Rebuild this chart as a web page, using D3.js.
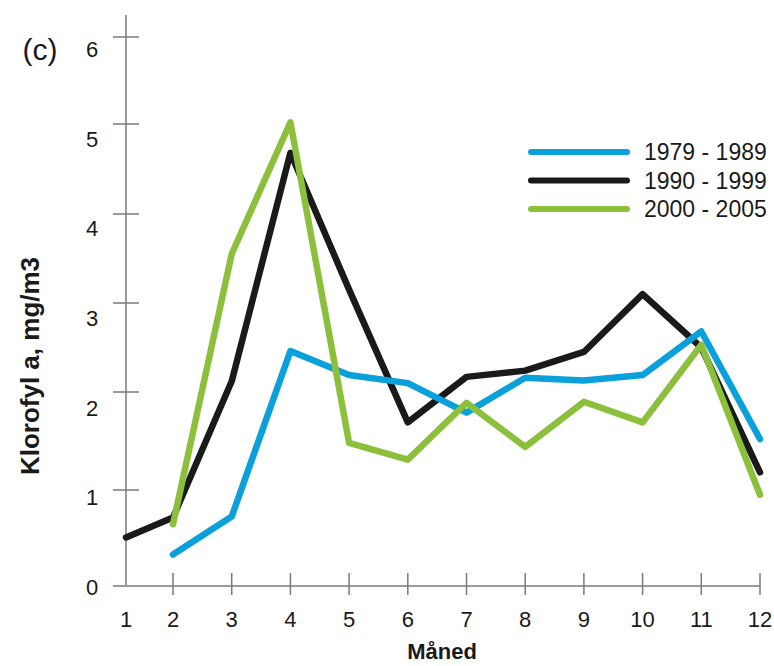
<html>
    <head>
        <script src='https://d3js.org/d3.v7.min.js'></script>
        <style>
            body { margin: 0; background: white; }
            text { font-family: 'Liberation Sans', Arial, sans-serif; fill: #1a1a1a; }
            .tick-label { font-size: 22px; text-anchor: middle; }
            .axis-title { font-size: 22px; font-weight: bold; text-anchor: middle; }
            .legend-label { font-size: 23px; }
        </style>
    </head>
    <body>
        <svg width=774 height=666 class="vis"></svg>
        <script>
            // chart values
            const months = [1, 2, 3, 4, 5, 6, 7, 8, 9, 10, 11, 12];
            const yTicks = [0, 1, 2, 3, 4, 5, 6];
            const seriesNames = ["1979 - 1989", "1990 - 1999", "2000 - 2005"];
            const seriesColors = ["#0aa0da", "#1a1a1a", "#8cc03c"];
            // null = no value that month
            const values7989 = [null, 0.32, 0.72, 2.46, 2.19, 2.1, 1.79, 2.16, 2.13, 2.19, 2.68, 1.52];
            const values9099 = [0.5, 0.71, 2.12, 4.68, 3.15, 1.69, 2.17, 2.24, 2.45, 3.1, 2.5, 1.18];
            const values0005 = [null, 0.64, 3.55, 5.02, 1.48, 1.31, 1.89, 1.44, 1.9, 1.69, 2.53, 0.95];

            const svg = d3.select(".vis");

            // the printed axes are not quite even, so piecewise scales
            const xs = d3.scaleLinear().domain([1, 2, 12]).range([126, 173, 760]);
            const ys = d3.scaleLinear().domain(yTicks).range([585, 490, 392, 303, 214, 124, 37]);
            const yLabelPos = d3.scaleLinear().domain([0, 6]).range([587, 49]);

            const axisColor = "#7a7a7a";

            // y axis
            svg.append("line")
                .attr("x1", xs(1)).attr("x2", xs(1))
                .attr("y1", 15).attr("y2", ys(0))
                .attr("stroke", axisColor).attr("stroke-width", 1.5);
            svg.selectAll(".ytick")
                .data(yTicks.filter(d => d > 0))
                .enter()
                .append("line")
                .attr("class", "ytick")
                .attr("x1", xs(1) - 13).attr("x2", xs(1) + 13)
                .attr("y1", d => ys(d)).attr("y2", d => ys(d))
                .attr("stroke", axisColor).attr("stroke-width", 1.5);
            svg.selectAll(".ylabel")
                .data(yTicks)
                .enter()
                .append("text")
                .attr("class", "tick-label")
                .attr("x", 92)
                .attr("y", d => yLabelPos(d))
                .attr("dy", "0.36em")
                .text(d => d);

            // x axis
            svg.append("line")
                .attr("x1", 113).attr("x2", xs(12))
                .attr("y1", ys(0) + 1).attr("y2", ys(0) + 1)
                .attr("stroke", axisColor).attr("stroke-width", 1.5);
            svg.selectAll(".xtick")
                .data(months.filter(d => d > 1))
                .enter()
                .append("line")
                .attr("class", "xtick")
                .attr("x1", d => xs(d)).attr("x2", d => xs(d))
                .attr("y1", ys(0) - 12).attr("y2", ys(0) + 10)
                .attr("stroke", axisColor).attr("stroke-width", 1.5);
            svg.selectAll(".xlabel")
                .data(months)
                .enter()
                .append("text")
                .attr("class", "tick-label")
                .attr("x", d => xs(d))
                .attr("y", 619)
                .attr("dy", "0.36em")
                .text(d => d);

            svg.append("text")
                .attr("class", "axis-title")
                .attr("x", 442)
                .attr("y", 651)
                .attr("dy", "0.36em")
                .text("Måned");

            svg.append("text")
                .attr("class", "axis-title")
                .attr("transform", "translate(30,366) rotate(-90)")
                .attr("dy", "0.36em")
                .style("font-size", "26px")
                .text("Klorofyl a, mg/m3");

            svg.append("text")
                .attr("x", 40)
                .attr("y", 49)
                .attr("dy", "0.36em")
                .attr("text-anchor", "middle")
                .style("font-size", "30px")
                .text("(c)");

            // lines
            const line = d3.line()
                .defined(d => d[1] !== null)
                .x(d => xs(d[0]))
                .y(d => ys(d[1]));

            const series = [values9099, values7989, values0005];
            const order = [1, 0, 2];
            series.forEach(function(vals, i) {
                svg.append("path")
                    .datum(months.map((m, j) => [m, vals[j]]))
                    .attr("d", line)
                    .attr("fill", "none")
                    .attr("stroke", seriesColors[order[i]])
                    .attr("stroke-width", 6.5)
                    .attr("stroke-linecap", "round")
                    .attr("stroke-linejoin", "round");
            });

            // legend
            const legend = svg.append("g").attr("transform", "translate(531,152)");
            seriesNames.forEach(function(name, i) {
                legend.append("line")
                    .attr("x1", 0).attr("x2", 96)
                    .attr("y1", i * 28.5).attr("y2", i * 28.5)
                    .attr("stroke", seriesColors[i])
                    .attr("stroke-width", 6)
                    .attr("stroke-linecap", "round");
                legend.append("text")
                    .attr("class", "legend-label")
                    .attr("x", 113)
                    .attr("y", i * 28.5)
                    .attr("dy", "0.36em")
                    .text(name);
            });
        </script>
    </body>
</html>
